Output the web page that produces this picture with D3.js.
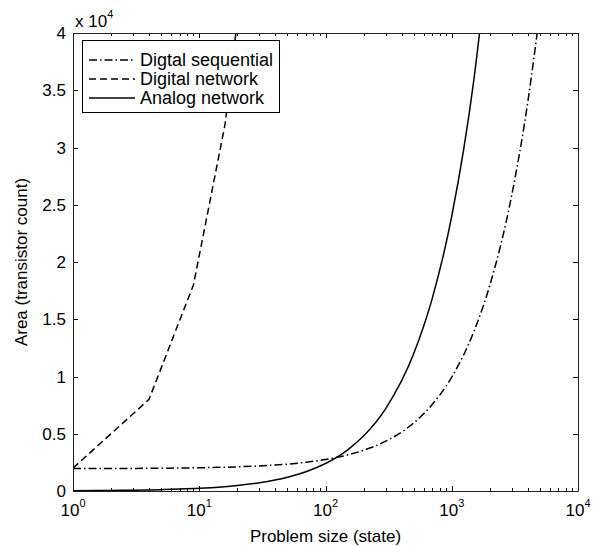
<!DOCTYPE html>
<html>
<head>
<meta charset="utf-8">
<script src="https://cdn.jsdelivr.net/npm/d3@7"></script>
<style>
  body { margin: 0; background: #fff; }
  svg { font-family: "Liberation Sans", Arial, sans-serif; }
</style>
</head>
<body>
<div id="chart"></div>
<script>
// values (x = problem size, y = transistor count)
const seqX   = [1, 2, 3, 5, 7, 10, 15, 20, 30, 50, 70, 100, 150, 200, 300, 500, 700, 1000, 1500, 2000, 3000, 4000, 5000];
const seqY   = [1960, 1965, 1975, 1990, 2005, 2030, 2070, 2110, 2190, 2350, 2510, 2750, 3150, 3550, 4350, 5950, 7550, 9950, 13950, 17950, 25950, 33950, 41950];
const netX   = [1, 4, 9, 16, 25];
const netY   = [2000, 8000, 18000, 32000, 50000];
const anaX   = [1, 2, 3, 5, 7, 10, 15, 20, 30, 50, 70, 100, 150, 200, 300, 500, 700, 1000, 1500, 2000];
const anaY   = [24, 48, 72, 120, 170, 240, 360, 480, 720, 1200, 1680, 2400, 3600, 4800, 7200, 12000, 16800, 24000, 36000, 48000];
const seriesNames = ["Digtal sequential", "Digital network", "Analog network"];
const yTicks = [0, 5000, 10000, 15000, 20000, 25000, 30000, 35000, 40000];
const yTickLabels = ["0", "0.5", "1", "1.5", "2", "2.5", "3", "3.5", "4"];
const xTicks = [1, 10, 100, 1000, 10000];
const xTickExp = ["0", "1", "2", "3", "4"];

const W = 594, H = 546;
const margin = {top: 33, right: 16, bottom: 55, left: 73};
const width = W - margin.left - margin.right,
      height = H - margin.top - margin.bottom;
const fs = 17, fsSup = 11;

const svg = d3.select("#chart").append("svg")
  .attr("width", W).attr("height", H);

const x = d3.scaleLog().domain([1, 10000]).range([margin.left, margin.left + width]);
const y = d3.scaleLinear().domain([0, 40000]).range([margin.top + height, margin.top]);

svg.append("clipPath").attr("id", "clip")
  .append("rect")
  .attr("x", margin.left).attr("y", margin.top)
  .attr("width", width).attr("height", height);

// ticks, pointing inward on all four sides
const tickG = svg.append("g").attr("stroke", "#000").attr("stroke-width", 1);
const minor = [];
for (let d = 1; d < 10000; d *= 10) for (let k = 2; k <= 9; k++) minor.push(d * k);
minor.forEach(v => {
  const px = Math.round(x(v)) + 0.5;
  tickG.append("line").attr("x1", px).attr("x2", px).attr("y1", margin.top + height).attr("y2", margin.top + height - 3);
  tickG.append("line").attr("x1", px).attr("x2", px).attr("y1", margin.top).attr("y2", margin.top + 3);
});
xTicks.forEach(v => {
  const px = Math.round(x(v)) + 0.5;
  tickG.append("line").attr("x1", px).attr("x2", px).attr("y1", margin.top + height).attr("y2", margin.top + height - 5);
  tickG.append("line").attr("x1", px).attr("x2", px).attr("y1", margin.top).attr("y2", margin.top + 5);
});
yTicks.forEach(v => {
  const py = Math.round(y(v)) + 0.5;
  tickG.append("line").attr("x1", margin.left).attr("x2", margin.left + 5).attr("y1", py).attr("y2", py);
  tickG.append("line").attr("x1", margin.left + width).attr("x2", margin.left + width - 5).attr("y1", py).attr("y2", py);
});

// curves
const line = d3.line()
  .x(d => x(d[0]))
  .y(d => y(d[1]))
  .curve(d3.curveMonotoneX);
const lineStraight = d3.line().x(d => x(d[0])).y(d => y(d[1]));

const curves = [
  {xs: seqX, ys: seqY, dash: "8,3,1.5,3", smooth: true},
  {xs: netX, ys: netY, dash: "7,4", smooth: false},
  {xs: anaX, ys: anaY, dash: null, smooth: true}
];

const plotG = svg.append("g").attr("clip-path", "url(#clip)");
curves.forEach(c => {
  const pts = c.xs.map((v, i) => [v, c.ys[i]]);
  plotG.append("path")
    .attr("d", c.smooth ? line(pts) : lineStraight(pts))
    .attr("fill", "none")
    .attr("stroke", "#000")
    .attr("stroke-width", 1.5)
    .attr("stroke-dasharray", c.dash);
});

// frame
const L = margin.left + 0.5, R = margin.left + width + 0.5,
      T = margin.top + 0.5, B = margin.top + height + 0.5;
svg.append("path")
  .attr("d", `M${L},${T}H${R}V${B}H${L}Z`)
  .attr("fill", "none").attr("stroke", "#222").attr("stroke-width", 1);

// y tick labels
svg.append("g").selectAll("text").data(yTicks).join("text")
  .attr("x", margin.left - 7)
  .attr("y", d => y(d) + 6)
  .attr("text-anchor", "end")
  .attr("font-size", fs)
  .text((d, i) => yTickLabels[i]);

// exponent label
const expT = svg.append("text")
  .attr("x", margin.left + 2).attr("y", 27)
  .attr("font-size", fs);
expT.append("tspan").text("x 10");
expT.append("tspan").attr("dy", -9).attr("font-size", fsSup).text("4");

// x tick labels 10^n
xTicks.forEach((v, i) => {
  const t = svg.append("text")
    .attr("x", x(v)).attr("y", 516)
    .attr("text-anchor", "middle")
    .attr("font-size", fs);
  t.append("tspan").text("10");
  t.append("tspan").attr("dy", -9).attr("font-size", fsSup).text(xTickExp[i]);
});

// axis titles
svg.append("text")
  .attr("x", margin.left + width / 2).attr("y", 542)
  .attr("text-anchor", "middle").attr("font-size", fs)
  .text("Problem size (state)");
svg.append("text")
  .attr("transform", `translate(27,${margin.top + height / 2}) rotate(-90)`)
  .attr("text-anchor", "middle").attr("font-size", fs)
  .text("Area (transistor count)");

// legend
const lg = svg.append("g");
lg.append("rect")
  .attr("x", 82.5).attr("y", 40.5).attr("width", 197).attr("height", 72)
  .attr("fill", "#fff").attr("stroke", "#000").attr("stroke-width", 1);
const rows = [60, 79, 98];
seriesNames.forEach((name, i) => {
  lg.append("line")
    .attr("x1", 89).attr("x2", 135)
    .attr("y1", rows[i]).attr("y2", rows[i])
    .attr("stroke", "#000").attr("stroke-width", 1.5)
    .attr("stroke-dasharray", curves[i].dash);
  lg.append("text")
    .attr("x", 140).attr("y", rows[i] + 6)
    .attr("font-size", 18)
    .text(name);
});
</script>
</body>
</html>
